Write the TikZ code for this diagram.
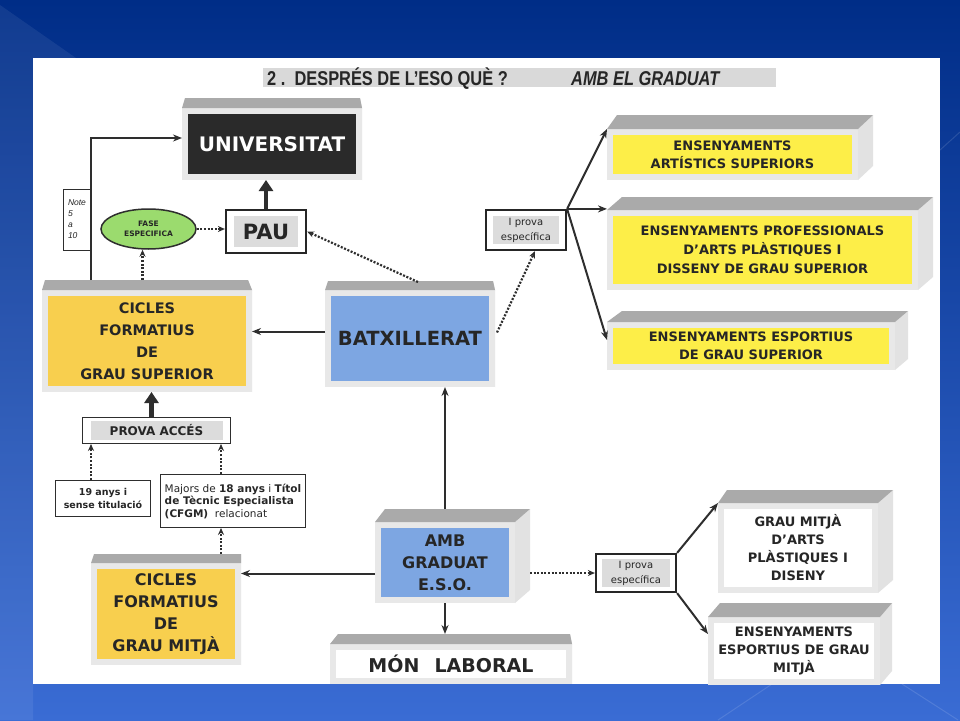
\documentclass[tikz,border=0pt]{standalone}
\usepackage{fontspec}
\setmainfont{DejaVu Sans}
\newfontfamily\TitleFont[FakeStretch=0.82]{Liberation Sans}
\newfontfamily\NoteFont{Liberation Sans}
\usepackage{xcolor}
\usepackage{tikz}
\usetikzlibrary{arrows.meta}
\usetikzlibrary{shapes}
\usetikzlibrary{positioning}
\usetikzlibrary{calc}
\usetikzlibrary{backgrounds}
\definecolor{SlideTop}{RGB}{0,45,135}
\definecolor{SlideBottom}{RGB}{58,108,212}
\definecolor{FrameGray}{RGB}{232,232,232}
\definecolor{TopGray}{RGB}{170,170,170}
\definecolor{SideGray}{RGB}{226,226,226}
\definecolor{InnerGray}{RGB}{220,220,220}
\definecolor{TitleGray}{RGB}{217,217,217}
\definecolor{UnivBlack}{RGB}{42,42,42}
\definecolor{GoldYellow}{RGB}{248,207,78}
\definecolor{BrightYellow}{RGB}{253,238,72}
\definecolor{BatxBlue}{RGB}{125,166,226}
\definecolor{FaseGreen}{RGB}{155,219,110}
\definecolor{LineDark}{RGB}{46,46,46}
\definecolor{TextDark}{RGB}{38,38,38}
\tikzset{
  Face/.style={
    rectangle, draw=FrameGray, line width=6pt,
    inner sep=0pt, align=center, text=TextDark,
  },
  SmallBox/.style={
    rectangle, draw=LineDark, line width=0.9pt, fill=white,
    inner sep=0pt, align=center, text=TextDark,
  },
  ProvaBox/.style={
    rectangle, draw=black!85, line width=2.2pt, fill=white,
    inner sep=0pt, align=center, text=TextDark,
  },
  Inset/.style 2 args={
    path picture={\fill[InnerGray] ([shift={(#1,-#2)}]path picture bounding box.north west)
      rectangle ([shift={(-#1,#2)}]path picture bounding box.south east);},
  },
  Arrow/.style={draw=LineDark, line width=2pt, -{Stealth[length=9pt,width=7pt]}},
  ThickArrow/.style={draw=LineDark, line width=4.5pt, -{Triangle[length=11pt,width=14pt]}},
  DotArrow/.style={draw=LineDark, line width=2.2pt, dash pattern=on 2pt off 1.6pt, -{Stealth[length=7pt,width=6pt]}},
}
% top face and side face of a box: node, left shift, right shift, height
\newcommand{\Bevel}[4]{%
  \begin{pgfonlayer}{background}
  \fill[SideGray] (#1.north east) -- ([shift={(#3pt,#4pt)}]#1.north east)
    -- ([shift={(#3pt,#4pt)}]#1.south east) -- (#1.south east) -- cycle;
  \end{pgfonlayer}
  \fill[TopGray] (#1.north west) -- ([shift={(#2pt,#4pt)}]#1.north west)
    -- ([shift={(#3pt,#4pt)}]#1.north east) -- (#1.north east) -- cycle;}

\begin{document}
\begin{tikzpicture}[x=1pt,y=-1pt]
\useasboundingbox (0,0) rectangle (960,720);
\begin{pgfonlayer}{background}
\shade[top color=SlideTop, bottom color=SlideBottom] (0,0) rectangle (960,720);
\fill[white, opacity=0.07] (0,5) -- (76,58) -- (33,58) -- (33,720) -- (0,720) -- cycle;
\draw[white, opacity=0.12, line width=1pt] (718,720) -- (772,684) (902,684) -- (958,720) (940,150) -- (960,132);
\fill[white] (33,58) rectangle (940,684);
\end{pgfonlayer}

% title
\node[fill=TitleGray, minimum width=513pt, minimum height=19pt, inner sep=0pt] (TITLE) at (519.5,77.5) {};
\node[anchor=base west, inner sep=0pt, text=TextDark, font=\TitleFont\bfseries\fontsize{20}{20}\selectfont] (T1) at (267,85.5) {2 .\ \ DESPRÉS DE L’ESO QUÈ ?};
\node[anchor=base west, inner sep=0pt, text=TextDark, font=\TitleFont\bfseries\itshape\fontsize{20}{20}\selectfont] (T2) at (571,85.5) {AMB EL GRADUAT};

% boxes
\node[Face, fill=UnivBlack, text=white, minimum width=174pt, minimum height=66pt, font=\bfseries\fontsize{20}{22}\selectfont] (UNIV) at (272,144) {UNIVERSITAT};
\node[Face, fill=GoldYellow, minimum width=204pt, minimum height=96pt, font=\bfseries\fontsize{14.5}{22}\selectfont] (CGS) at (147,341) {CICLES\\FORMATIUS\\DE\\GRAU SUPERIOR};
\node[Face, fill=BatxBlue, minimum width=164pt, minimum height=91pt, font=\bfseries\fontsize{19.5}{20}\selectfont] (BATX) at (410,338.5) {BATXILLERAT};
\node[Face, fill=BatxBlue, minimum width=134pt, minimum height=75pt, font=\bfseries\fontsize{16}{22}\selectfont] (AMB) at (445,562.5) {AMB\\GRADUAT\\E.S.O.};
\node[Face, fill=GoldYellow, minimum width=144pt, minimum height=96pt, font=\bfseries\fontsize{16}{22}\selectfont] (CGM) at (166,614) {CICLES\\FORMATIUS\\DE\\GRAU MITJÀ};
\node[Face, fill=white, minimum width=236pt, minimum height=34pt, font=\bfseries\fontsize{19}{22}\selectfont] (MON) at (451,664) {MÓN\hspace{0.8em}LABORAL};
\node[Face, fill=BrightYellow, minimum width=245pt, minimum height=45pt, font=\bfseries\fontsize{13}{18}\selectfont] (ART) at (732.5,154.5) {ENSENYAMENTS\\ARTÍSTICS SUPERIORS};
\node[Face, fill=BrightYellow, minimum width=305pt, minimum height=74pt, font=\bfseries\fontsize{13}{19}\selectfont] (PROF) at (762.5,250) {ENSENYAMENTS PROFESSIONALS\\D’ARTS PLÀSTIQUES I\\DISSENY DE GRAU SUPERIOR};
\node[Face, fill=BrightYellow, minimum width=282pt, minimum height=42pt, font=\bfseries\fontsize{13}{18}\selectfont] (ESP) at (751,346) {ENSENYAMENTS ESPORTIUS\\DE GRAU SUPERIOR};
\node[Face, fill=white, minimum width=154pt, minimum height=84pt, font=\bfseries\fontsize{13}{18}\selectfont] (GMA) at (798,548) {GRAU MITJÀ\\D’ARTS\\PLÀSTIQUES I\\DISENY};
\node[Face, fill=white, minimum width=166pt, minimum height=62pt, font=\bfseries\fontsize{13}{18}\selectfont] (EGM) at (794,651) {ENSENYAMENTS\\ESPORTIUS DE GRAU\\MITJÀ};
\Bevel{UNIV}{3}{-2}{10}
\Bevel{CGS}{3}{-4}{10}
\Bevel{BATX}{3}{-2}{9}
\Bevel{AMB}{10}{15}{13}
\Bevel{CGM}{3}{0}{9}
\Bevel{MON}{8}{-2}{10}
\Bevel{ART}{10}{15}{14}
\Bevel{PROF}{15}{15}{13}
\Bevel{ESP}{15}{13}{11}
\Bevel{GMA}{9}{15}{13}
\Bevel{EGM}{12}{12}{14}

% small boxes
\node[SmallBox, line width=0.7pt, minimum width=28pt, minimum height=61pt, align=left, font=\NoteFont\itshape\fontsize{8.5}{11}\selectfont] (NOTE) at (77,219.5) {Note\\5\\a\\10};
\node[ellipse, draw=LineDark, line width=1.5pt, fill=FaseGreen, minimum width=95pt, minimum height=40pt, inner sep=0pt, align=center, text=TextDark, font=\bfseries\fontsize{7.5}{10}\selectfont] (FASE) at (148.5,229) {FASE\\ESPECIFICA};
\node[ProvaBox, Inset={8pt}{6pt}, minimum width=80pt, minimum height=43pt, font=\bfseries\fontsize{21}{22}\selectfont] (PAU) at (266,231.5) {PAU};
\node[ProvaBox, Inset={7pt}{6pt}, minimum width=80pt, minimum height=40pt, font=\fontsize{10}{15}\selectfont] (IPS) at (526,230) {I prova\\específica};
\node[ProvaBox, Inset={6pt}{5pt}, minimum width=80pt, minimum height=38pt, font=\fontsize{10}{15}\selectfont] (IPG) at (636,573) {I prova\\específica};
\node[SmallBox, Inset={8pt}{3.5pt}, minimum width=148pt, minimum height=26pt, font=\bfseries\fontsize{12}{13}\selectfont] (PROVA) at (156.5,430.5) {PROVA ACCÉS};
\node[SmallBox, minimum width=95pt, minimum height=36pt, font=\bfseries\fontsize{9.5}{13}\selectfont] (DINOU) at (103,498.5) {19 anys i\\sense titulació};
\node[SmallBox, minimum width=145pt, minimum height=53pt, align=left, font=\fontsize{10.5}{12.5}\selectfont] (MAJORS) at (233,501) {Majors de \textbf{18 anys} i \textbf{Títol}\\\textbf{de Tècnic Especialista}\\\textbf{(CFGM)}\ \ relacionat};

% connectors
\coordinate (bw) at ($(BATX.west)+(0,-7)$);
\coordinate (pn) at ($(PROVA.north)+(-5,0)$);
\coordinate (dn) at ($(DINOU.north)+(-12,0)$);
\coordinate (mn) at ($(MAJORS.north)+(-12,0)$);
\coordinate (aw) at ($(AMB.west)+(0,11)$);
\draw[Arrow] ($(CGS.north -| NOTE.east)+(0,-10)$) |- ($(UNIV.west)+(0,-6)$);
\draw[ThickArrow] (PAU.north) -- (PAU.north |- UNIV.south);
\draw[DotArrow] ($(FASE.south |- CGS.north)+(-6,-10)$) -- ($(FASE.south)+(-6,0)$);
\draw[DotArrow] (FASE.east) -- (FASE.east -| PAU.west);
\draw[DotArrow] ($(BATX.north)+(8,-8)$) -- (PAU.east);
\draw[Arrow] (bw) -- (bw -| CGS.east);
\draw[DotArrow] ($(BATX.east)+(2,-6)$) -- ($(IPS.south)+(9,0)$);
\draw[Arrow] (IPS.north east) -- (ART.north west);
\draw[Arrow] (IPS.north east) -- (IPS.north east -| PROF.west);
\draw[Arrow] (IPS.north east) -- ($(ESP.west)+(0,-6)$);
\draw[ThickArrow] (pn) -- (pn |- CGS.south);
\draw[DotArrow] (dn) -- (dn |- PROVA.south);
\draw[DotArrow] (mn) -- (mn |- PROVA.south);
\draw[DotArrow] ($(mn |- CGM.north)+(0,-9)$) -- (mn |- MAJORS.south);
\draw[Arrow] ($(AMB.north)+(0,-13)$) -- (AMB.north |- BATX.south);
\draw[Arrow] (aw) -- (aw -| CGM.east);
\draw[Arrow] (AMB.south) -- ($(AMB.south |- MON.north)+(0,-10)$);
\draw[DotArrow] ($(IPG.west -| AMB.east)+(15,0)$) -- (IPG.west);
\draw[Arrow] (IPG.north east) -- (GMA.north west);
\draw[Arrow] (IPG.south east) -- ($(EGM.west)+(0,-17)$);
\end{tikzpicture}
\end{document}
